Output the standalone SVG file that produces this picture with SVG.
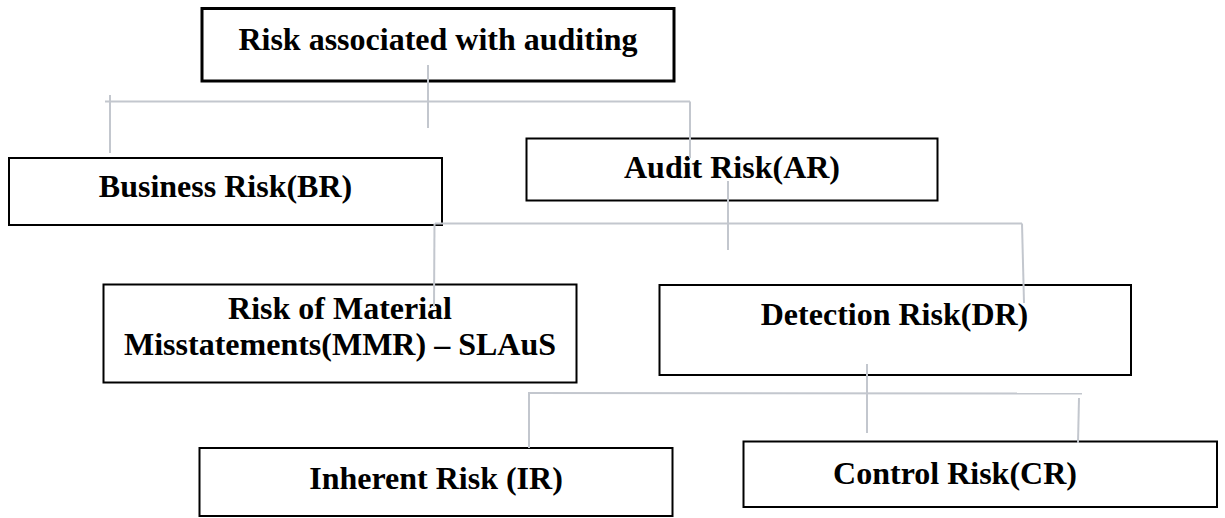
<svg xmlns="http://www.w3.org/2000/svg" width="1225" height="518" viewBox="0 0 1225 518">
<style>
.box{fill:#fff;stroke:#000;stroke-width:2}
.top{stroke-width:3}
.lbl{font-family:"Liberation Serif","Times New Roman",serif;font-weight:bold;font-size:32px;fill:#000;text-anchor:middle}
.con line{stroke:#c3c7ce;stroke-width:2;fill:none}
</style>
<rect width="1225" height="518" fill="#fff"/>
<g id="n-root"><rect class="box top" x="202" y="8.5" width="472" height="72.5"/><text class="lbl" x="438" y="50">Risk associated with auditing</text></g>
<g id="n-br"><rect class="box" x="9" y="158" width="433" height="67"/><text class="lbl" x="225.5" y="197">Business Risk(BR)</text></g>
<g id="n-ar"><rect class="box" x="526.5" y="138.5" width="411" height="62"/><text class="lbl" x="732" y="178">Audit Risk(AR)</text></g>
<g id="n-mmr"><rect class="box" x="103.5" y="284.5" width="473" height="98"/><text class="lbl" x="340" y="319">Risk of Material</text><text class="lbl" x="340" y="355">Misstatements(MMR) – SLAuS</text></g>
<g id="n-dr"><rect class="box" x="659.5" y="285" width="471.5" height="90"/><text class="lbl" x="894.5" y="325">Detection Risk(DR)</text></g>
<g id="n-ir"><rect class="box" x="199.5" y="448" width="473" height="68"/><text class="lbl" x="436" y="489">Inherent Risk (IR)</text></g>
<g id="n-cr"><rect class="box" x="743.5" y="441.5" width="473.5" height="65.5"/><text class="lbl" x="955" y="484">Control Risk(CR)</text></g>
<g id="connectors" class="con">
<line x1="428" y1="65" x2="428" y2="128"/>
<line x1="105" y1="101.5" x2="690" y2="101.5"/>
<line x1="110" y1="95" x2="110" y2="153"/>
<line x1="690" y1="101.5" x2="690" y2="158"/>
<line x1="728" y1="181" x2="728" y2="250"/>
<line x1="435" y1="223.5" x2="1022" y2="223.5"/>
<line x1="434.5" y1="223.5" x2="434" y2="307"/>
<line x1="1022" y1="223.5" x2="1024" y2="303"/>
<line x1="867" y1="364" x2="867" y2="433"/>
<line x1="528" y1="393" x2="1082" y2="393.5"/>
<line x1="529" y1="393" x2="529" y2="448"/>
<line x1="1079" y1="398" x2="1078" y2="443"/>
</g>
</svg>
